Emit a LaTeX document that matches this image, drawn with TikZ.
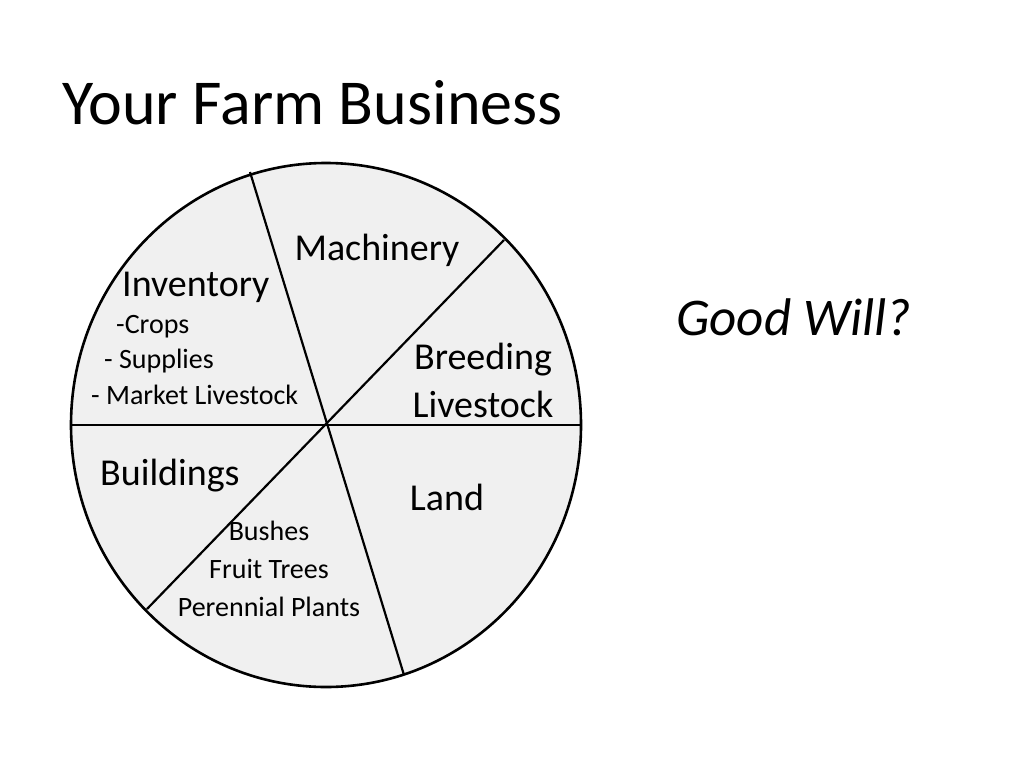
\documentclass[tikz,border=0pt]{standalone}
\usepackage{fontspec}
\setmainfont{Carlito}
\usetikzlibrary{positioning}
\tikzset{
  lbl/.style={font=\fontsize{38}{46}\selectfont, inner sep=0pt},
  sml/.style={font=\fontsize{28}{34}\selectfont, inner sep=0pt, align=left},
  cut/.style={line width=2.2pt}
}
\begin{document}
\begin{tikzpicture}[x=1pt,y=-1pt]
  \useasboundingbox (0,0) rectangle (1024,768);
  \coordinate (c) at (326,425);
  \draw[line width=2.6pt, fill=black!6] (c) ellipse [x radius=255, y radius=262];
  \coordinate (w) at (71,425);
  \coordinate (e) at (581,425);
  \coordinate (n) at (250,172);
  \coordinate (s) at (404,675);
  \coordinate (ne) at (504,240);
  \coordinate (sw) at (147,609);
  \draw[cut] (w) -- (e);
  \draw[cut] (n) -- (s);
  \draw[cut] (ne) -- (sw);
  \node[anchor=west, inner sep=0pt, font=\fontsize{64}{70}\selectfont] (title) at (62,103) {Your Farm Business};
  \node[lbl] (mach) at (377,250) {Machinery};
  \node[lbl, anchor=west] (inv) at (122,287) {Inventory};
  \node[sml, anchor=west] (crops) at (116,327) {-Crops};
  \node[sml, anchor=west] (supp) at (104,361) {- Supplies};
  \node[sml, anchor=west] (mkt) at (91,395) {- Market Livestock};
  \node[lbl, align=center, font=\fontsize{38}{48}\selectfont] (breed) at (483,380) {Breeding\\Livestock};
  \node[lbl, anchor=west] (bld) at (100,476) {Buildings};
  \node[lbl] (land) at (447,497) {Land};
  \node[sml, align=center, font=\fontsize{28}{38}\selectfont] (bush) at (269,569) {Bushes\\Fruit Trees\\Perennial Plants};
  \node[lbl, anchor=west, font=\fontsize{53}{60}\selectfont\itshape] (good) at (676,317) {Good Will?};
\end{tikzpicture}
\end{document}
